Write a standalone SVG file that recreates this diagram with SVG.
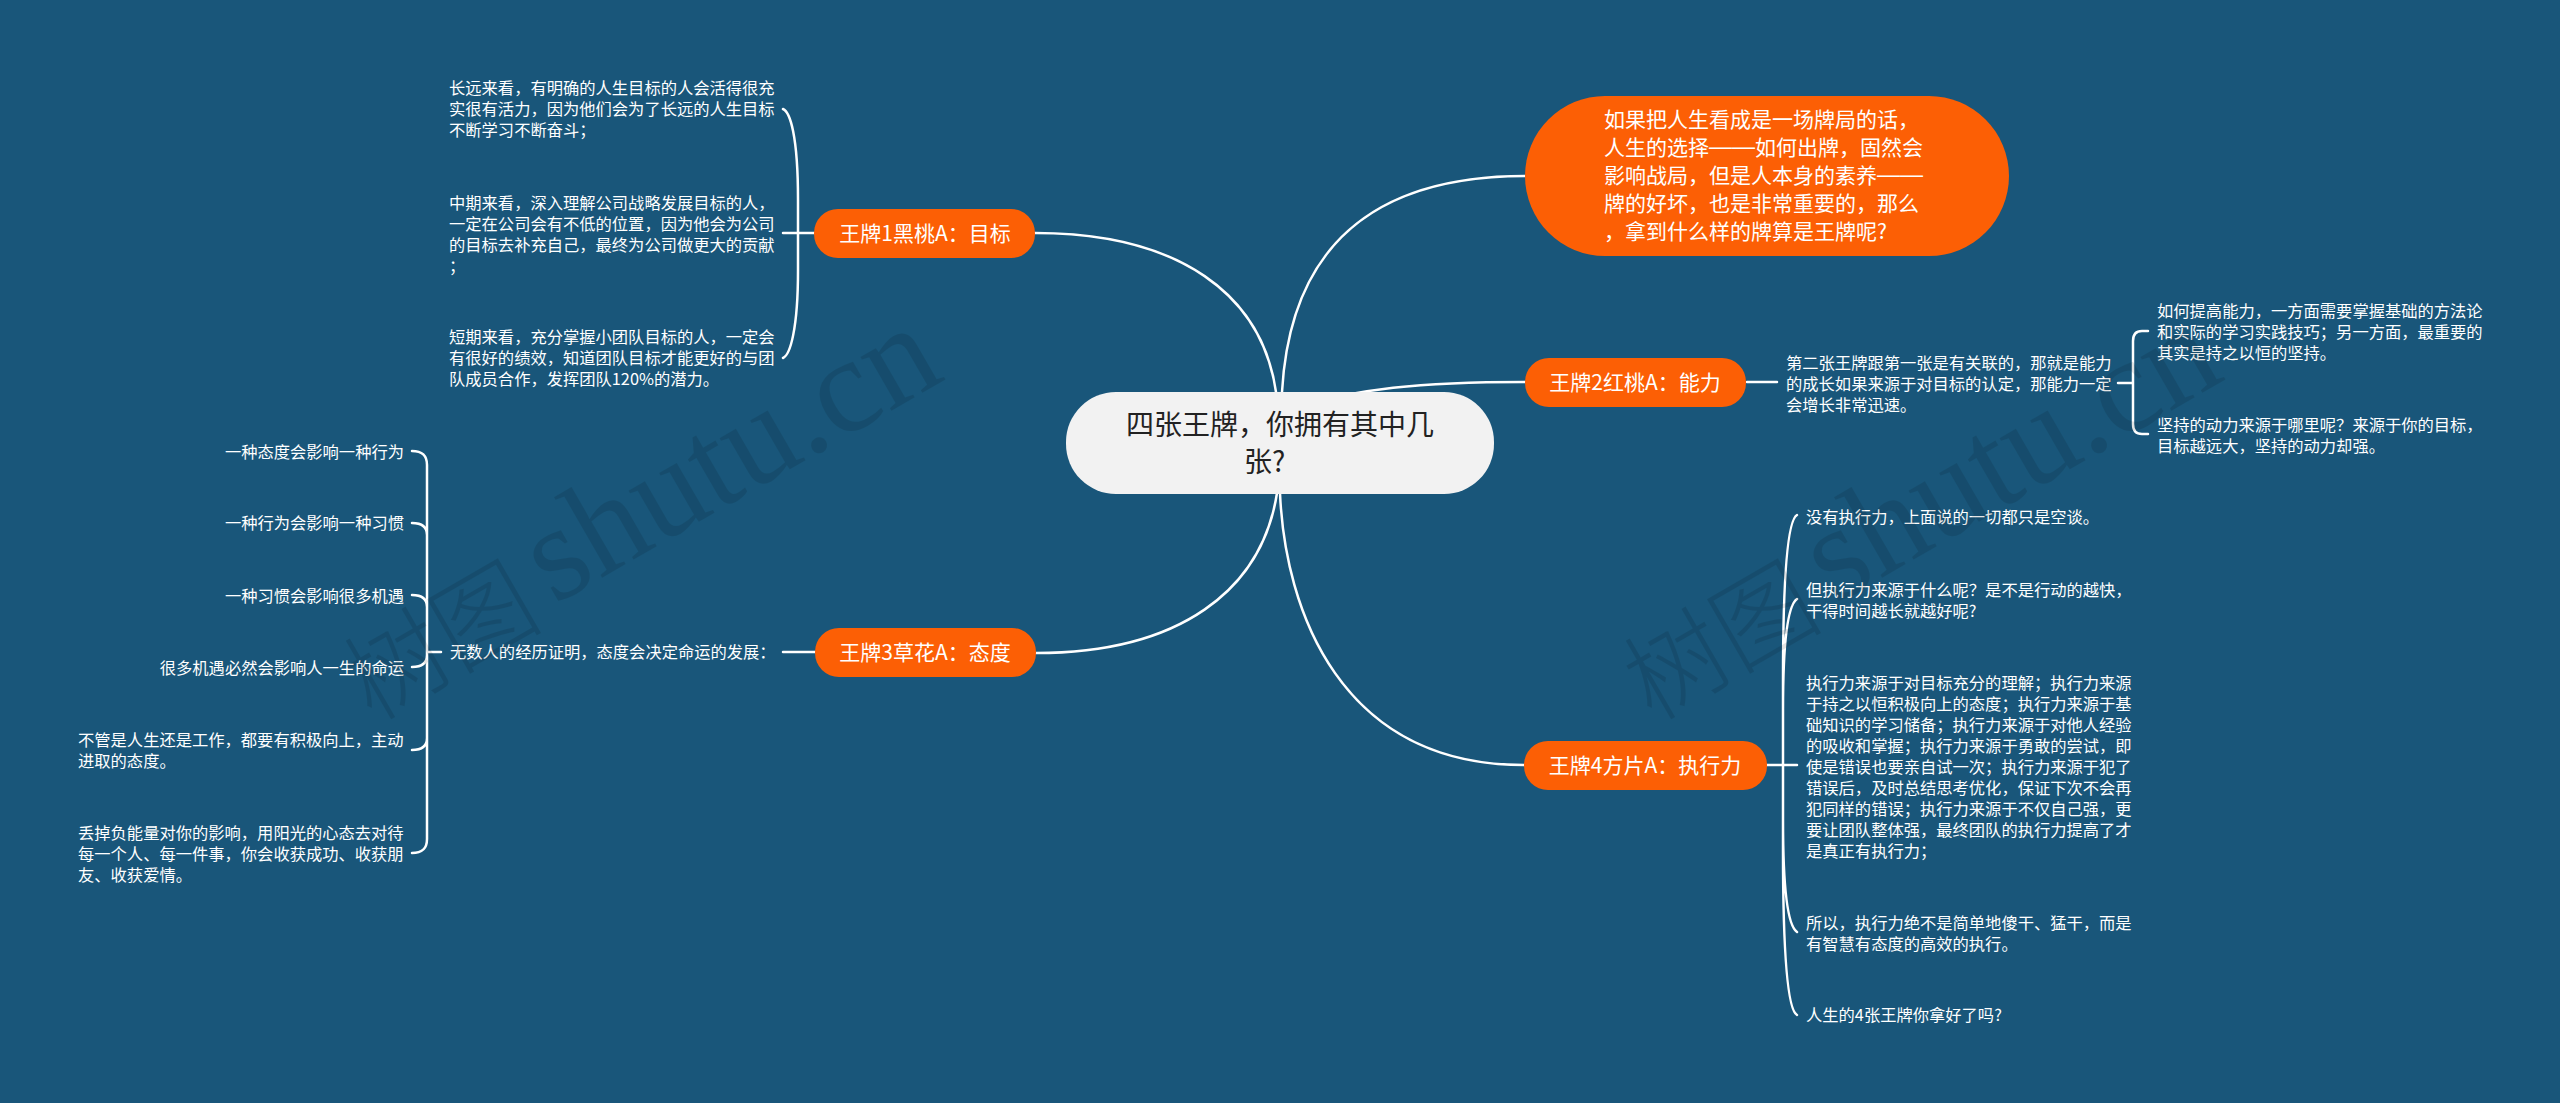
<svg xmlns="http://www.w3.org/2000/svg" width="2560" height="1103" viewBox="0 0 2560 1103">
<style>
text{font-family:"Noto Sans CJK SC","Liberation Sans",sans-serif;fill:#fff}
.s{font-size:16.3px}
.e{text-anchor:end}
.b{font-size:21px}
.m{text-anchor:middle}
.big{font-size:28px}
.pill{fill:#fc5f05}
.dash{font-family:"Liberation Sans",sans-serif;font-size:23px}
.wm{fill:#000;opacity:.1}
.wc{font-family:"Noto Sans CJK SC",sans-serif;font-size:100px;font-weight:300}
.wl{font-family:"Liberation Serif",serif;font-size:135px}
#connectors path{fill:none;stroke:#fff;stroke-width:2.5;stroke-linecap:round}
</style>
<rect width="2560" height="1103" fill="#19567a"/>
<g id="connectors">
<path d="M1035 233C1180 233 1262 295 1276 392L1280 443"/>
<path d="M1525 176C1370 176 1290 250 1282 392L1280 443"/>
<path d="M1525 382C1420 382 1360 388 1280 410"/>
<path d="M1036 653C1180 653 1262 590 1277 493L1280 443"/>
<path d="M1524 765C1340 765 1285 610 1280 493V443"/>
<path d="M783 109C790 112 798 135 798 200V270C798 330 790 355 783 358M783 233H814"/>
<path d="M412 451C422 451 427 455 427 465V839C427 849 422 853 412 853M412 523C422 523 427 527 427 535M412 595C422 595 427 599 427 607M412 667C422 667 427 663 427 655M412 750C422 750 427 746 427 738M427 652H441M783 652H815"/>
<path d="M1747 382H1777M2118 383H2133M2148 331H2142C2136 331 2133 335 2133 341V424C2133 430 2136 434 2142 434H2148"/>
<path d="M1767 765H1797M1797 515C1788 520 1783 570 1783 680V850C1783 960 1788 1010 1797 1015M1797 599C1788 605 1783 640 1783 710M1797 932C1788 926 1783 890 1783 820"/>
</g>
<g id="root"><rect x="1066" y="392" width="428" height="102" rx="50" fill="#f2f2f2"/>
<text class="big m" style="fill:#222" x="1280" y="435">四张王牌，你拥有其中几</text>
<text class="big" style="fill:#222" x="1244" y="472">张?</text></g>
<g id="intro"><rect class="pill" x="1525" y="96" width="484" height="160" rx="80"/>
<g class="b"><text x="1604" y="127">如果把人生看成是一场牌局的话，</text>
<text x="1604" y="155">人生的选择<tspan class="dash" dy="-1">——</tspan><tspan dy="1">如何出牌，固然会</tspan></text>
<text x="1604" y="183">影响战局，但是人本身的素养<tspan class="dash" dy="-1">——</tspan></text>
<text x="1604" y="211">牌的好坏，也是非常重要的，那么</text>
<text x="1604" y="239">，拿到什么样的牌算是王牌呢?</text></g></g>
<g id="n1"><rect class="pill" x="814" y="209" width="221" height="49" rx="24"/><text class="b m" x="925" y="241">王牌1黑桃A：目标</text></g>
<g id="n2"><rect class="pill" x="1525" y="358" width="221" height="49" rx="24"/><text class="b m" x="1635" y="390">王牌2红桃A：能力</text></g>
<g id="n3"><rect class="pill" x="815" y="628" width="221" height="49" rx="24"/><text class="b m" x="925" y="660">王牌3草花A：态度</text></g>
<g id="n4"><rect class="pill" x="1524" y="741" width="243" height="49" rx="24"/><text class="b m" x="1645" y="773">王牌4方片A：执行力</text></g>
<g id="n1-children" class="s">
<text x="449" y="94">长远来看，有明确的人生目标的人会活得很充</text>
<text x="449" y="115">实很有活力，因为他们会为了长远的人生目标</text>
<text x="449" y="136">不断学习不断奋斗；</text>
<text x="449" y="209">中期来看，深入理解公司战略发展目标的人，</text>
<text x="449" y="230">一定在公司会有不低的位置，因为他会为公司</text>
<text x="449" y="251">的目标去补充自己，最终为公司做更大的贡献</text>
<text x="449" y="272">；</text>
<text x="449" y="343">短期来看，充分掌握小团队目标的人，一定会</text>
<text x="449" y="364">有很好的绩效，知道团队目标才能更好的与团</text>
<text x="449" y="385">队成员合作，发挥团队120%的潜力。</text>
</g>
<g id="n2-children" class="s">
<text x="1786" y="369">第二张王牌跟第一张是有关联的，那就是能力</text>
<text x="1786" y="390">的成长如果来源于对目标的认定，那能力一定</text>
<text x="1786" y="411">会增长非常迅速。</text>
<text x="2157" y="317">如何提高能力，一方面需要掌握基础的方法论</text>
<text x="2157" y="338">和实际的学习实践技巧；另一方面，最重要的</text>
<text x="2157" y="359">其实是持之以恒的坚持。</text>
<text x="2157" y="431">坚持的动力来源于哪里呢？来源于你的目标，</text>
<text x="2157" y="452">目标越远大，坚持的动力却强。</text>
</g>
<g id="n3-children" class="s">
<text x="450" y="658">无数人的经历证明，态度会决定命运的发展：</text>
<text class="e" x="404" y="458">一种态度会影响一种行为</text>
<text class="e" x="404" y="529">一种行为会影响一种习惯</text>
<text class="e" x="404" y="602">一种习惯会影响很多机遇</text>
<text class="e" x="404" y="674">很多机遇必然会影响人一生的命运</text>
<text x="78" y="746">不管是人生还是工作，都要有积极向上，主动</text>
<text x="78" y="767">进取的态度。</text>
<text x="78" y="839">丢掉负能量对你的影响，用阳光的心态去对待</text>
<text x="78" y="860">每一个人、每一件事，你会收获成功、收获朋</text>
<text x="78" y="881">友、收获爱情。</text>
</g>
<g id="n4-children" class="s">
<text x="1806" y="523">没有执行力，上面说的一切都只是空谈。</text>
<text x="1806" y="596">但执行力来源于什么呢？是不是行动的越快，</text>
<text x="1806" y="617">干得时间越长就越好呢?</text>
<text x="1806" y="689">执行力来源于对目标充分的理解；执行力来源</text>
<text x="1806" y="710">于持之以恒积极向上的态度；执行力来源于基</text>
<text x="1806" y="731">础知识的学习储备；执行力来源于对他人经验</text>
<text x="1806" y="752">的吸收和掌握；执行力来源于勇敢的尝试，即</text>
<text x="1806" y="773">使是错误也要亲自试一次；执行力来源于犯了</text>
<text x="1806" y="794">错误后，及时总结思考优化，保证下次不会再</text>
<text x="1806" y="815">犯同样的错误；执行力来源于不仅自己强，更</text>
<text x="1806" y="836">要让团队整体强，最终团队的执行力提高了才</text>
<text x="1806" y="857">是真正有执行力；</text>
<text x="1806" y="929">所以，执行力绝不是简单地傻干、猛干，而是</text>
<text x="1806" y="950">有智慧有态度的高效的执行。</text>
<text x="1806" y="1021">人生的4张王牌你拿好了吗?</text>
</g>
<g id="watermarks">
<text class="wm" transform="translate(372 722) rotate(-30)"><tspan class="wc">树图 </tspan><tspan class="wl" dx="-6" dy="-10">shutu.cn</tspan></text>
<text class="wm" transform="translate(1652 722) rotate(-30)"><tspan class="wc">树图 </tspan><tspan class="wl" dx="-6" dy="-10">shutu.cn</tspan></text>
</g>
</svg>
